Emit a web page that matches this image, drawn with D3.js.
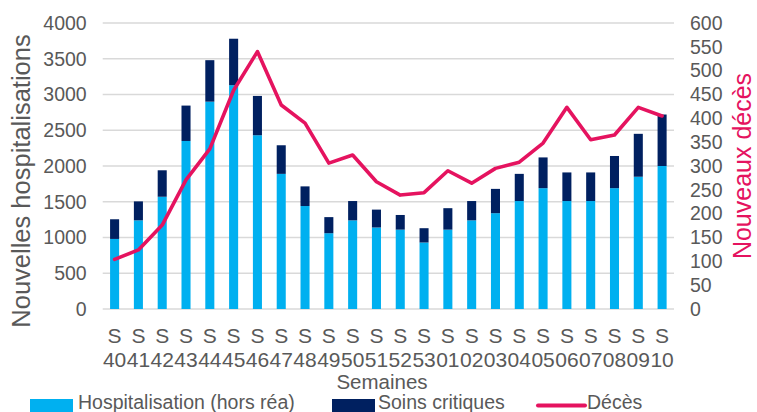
<!DOCTYPE html>
<html><head><meta charset="utf-8">
<script src="https://cdn.jsdelivr.net/npm/d3@7"></script>
<style>
html,body{margin:0;padding:0;background:#fff;}
svg{display:block;font-family:"Liberation Sans",Arial,sans-serif;}
</style></head>
<body><svg id="c" width="757" height="412"></svg>
<script>
const weeks = ["40","41","42","43","44","45","46","47","48","49","50","51","52","53","01","02","03","04","05","06","07","08","09","10"];
const hospit = [980,1240,1570,2350,2900,3130,2430,1890,1440,1060,1240,1140,1110,930,1110,1240,1340,1510,1690,1510,1510,1690,1850,2000];
const critiques = [275,265,370,495,580,650,550,400,275,225,270,250,205,200,300,270,340,380,430,400,400,450,600,720];
const deces = [104,124,176,271,336,459,540,428,390,306,323,267,239,244,290,264,295,308,348,423,355,365,423,405];
const leftTicks = [0,500,1000,1500,2000,2500,3000,3500,4000];
const rightTicks = [0,50,100,150,200,250,300,350,400,450,500,550,600];

const C_LIGHT = "#00B0F0", C_DARK = "#002060", C_PINK = "#E5135F", C_TXT = "#595959", C_GRID = "#D9D9D9";

const svg = d3.select("#c");
const L = 102.7, R = 674, T = 23, B = 309;

const x = d3.scaleBand().domain(weeks).range([L, R]).paddingInner(0.62).paddingOuter(0.31);
const y = d3.scaleLinear().domain([0, 4000]).range([B, T]);
const y2 = d3.scaleLinear().domain([0, 600]).range([B, T]);

// gridlines
svg.append("g").selectAll("line").data(leftTicks).join("line")
  .attr("x1", L).attr("x2", R)
  .attr("y1", d => y(d)).attr("y2", d => y(d))
  .attr("stroke", C_GRID).attr("stroke-width", 1.3);

// left axis
const ga = svg.append("g").attr("transform", `translate(${L - 16},0)`)
  .call(d3.axisLeft(y).tickValues(leftTicks).tickFormat(d3.format("d")).tickSize(0).tickPadding(0));
ga.select(".domain").remove();
ga.selectAll("text").attr("fill", C_TXT).style("font-size", "19.5px").style("font-family", "Liberation Sans, Arial, sans-serif");

// right axis
const gb = svg.append("g").attr("transform", `translate(${R + 16},0)`)
  .call(d3.axisRight(y2).tickValues(rightTicks).tickFormat(d3.format("d")).tickSize(0).tickPadding(0));
gb.select(".domain").remove();
gb.selectAll("text").attr("fill", C_TXT).style("font-size", "19.5px").style("font-family", "Liberation Sans, Arial, sans-serif");

// bars
const bars = svg.append("g");
bars.selectAll("rect.h").data(weeks).join("rect").attr("class", "h")
  .attr("x", d => x(d)).attr("width", x.bandwidth())
  .attr("y", (d, i) => y(hospit[i])).attr("height", (d, i) => y(0) - y(hospit[i]))
  .attr("fill", C_LIGHT);
bars.selectAll("rect.c").data(weeks).join("rect").attr("class", "c")
  .attr("x", d => x(d)).attr("width", x.bandwidth())
  .attr("y", (d, i) => y(hospit[i] + critiques[i])).attr("height", (d, i) => y(hospit[i]) - y(hospit[i] + critiques[i]))
  .attr("fill", C_DARK);

// line
const line = d3.line().x((d, i) => x(weeks[i]) + x.bandwidth() / 2).y(d => y2(d));
svg.append("path").datum(deces).attr("d", line)
  .attr("fill", "none").attr("stroke", C_PINK).attr("stroke-width", 3.6).attr("stroke-linejoin", "round").attr("stroke-linecap", "round");

// x labels
const xl = svg.append("g").selectAll("g").data(weeks).join("g")
  .attr("transform", d => `translate(${x(d) + x.bandwidth() / 2},0)`);
xl.append("text").attr("y", 343).attr("text-anchor", "middle").attr("fill", C_TXT).style("font-size", "21px").text("S");
xl.append("text").attr("y", 367).attr("text-anchor", "middle").attr("fill", C_TXT).style("font-size", "21px").text(d => d);

svg.append("text").attr("x", 382).attr("y", 389).attr("text-anchor", "middle").attr("fill", C_TXT).style("font-size", "20.5px").text("Semaines");

// axis titles
svg.append("text").attr("transform", "translate(30,181) rotate(-90)").attr("text-anchor", "middle")
  .attr("fill", C_TXT).style("font-size", "25.5px").text("Nouvelles hospitalisations");
svg.append("text").attr("transform", "translate(751,166) rotate(-90)").attr("text-anchor", "middle")
  .attr("fill", C_PINK).style("font-size", "25px").text("Nouveaux décès");

// legend
const lg = svg.append("g");
lg.append("rect").attr("x", 30).attr("y", 399).attr("width", 43).attr("height", 13).attr("fill", C_LIGHT);
lg.append("text").attr("x", 78).attr("y", 408.5).attr("fill", C_TXT).style("font-size", "19.5px").text("Hospitalisation (hors réa)");
lg.append("rect").attr("x", 332).attr("y", 399).attr("width", 43).attr("height", 13).attr("fill", C_DARK);
lg.append("text").attr("x", 378).attr("y", 408.5).attr("fill", C_TXT).style("font-size", "19.5px").text("Soins critiques");
lg.append("line").attr("x1", 538).attr("x2", 585).attr("y1", 405.5).attr("y2", 405.5).attr("stroke", C_PINK).attr("stroke-width", 4).attr("stroke-linecap", "round");
lg.append("text").attr("x", 587).attr("y", 408.5).attr("fill", C_TXT).style("font-size", "19.5px").text("Décès");
</script></body></html>
